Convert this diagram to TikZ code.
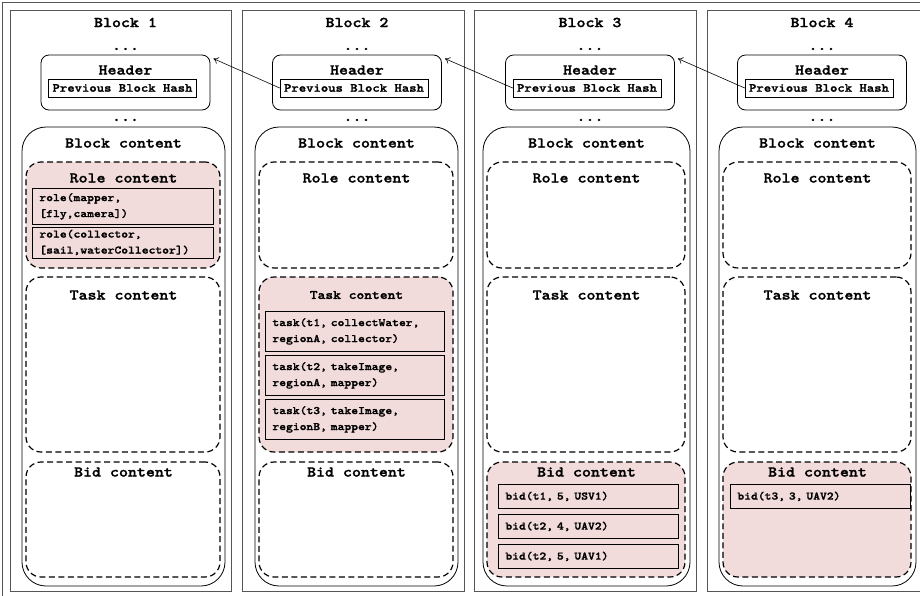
\documentclass[tikz,border=0pt]{standalone}
\usepackage{fontspec}
\setmonofont{Latin Modern Mono Light}[FakeStretch=1.14, BoldFeatures={FakeBold=1.5}]
\usetikzlibrary{fit,arrows.meta}
\definecolor{partpink}{RGB}{242,220,219}
\definecolor{framegray}{RGB}{85,85,85}

\tikzset{
  outerframe/.style={draw=framegray, line width=0.9pt, inner sep=0pt},
  blockframe/.style={draw=framegray, line width=0.9pt, inner sep=0pt},
  contentbox/.style={draw=black, line width=0.8pt, rounded corners=24pt, inner sep=0pt},
  hdrbox/.style={draw=black, line width=0.8pt, rounded corners=8pt, inner sep=0pt},
  hashbox/.style={draw=black, line width=0.8pt, inner xsep=4pt, inner ysep=0pt,
    minimum height=18pt, font=\ttfamily\bfseries\fontsize{12.3}{14}\selectfont},
  partbox/.style={draw=black, line width=1.2pt, dash pattern=on 6pt off 3.5pt,
    rounded corners=15pt, inner sep=0pt},
  itembox/.style={draw=black, line width=0.8pt, anchor=north west, inner xsep=7pt,
    inner ysep=0pt, align=left, font=\ttfamily\bfseries\fontsize{11.4}{16}\selectfont},
  bigtext/.style={font=\ttfamily\bfseries\fontsize{15}{18}\selectfont, inner sep=0pt},
  chainarrow/.style={-{To[length=5pt,width=7pt]}, line width=0.6pt},
}

\begin{document}
\begin{tikzpicture}[x=1pt,y=-1pt]
\useasboundingbox (0,0) rectangle (920,595);
\clip (0,0) rectangle (920,595);

% frame around the whole chain
\node[outerframe, fit={(2,2) (930,605)}] (frame) {};

% the four blocks: frame, title, header, content and its three parts
\foreach \i/\xl/\xr/\hc/\cl/\cr/\fr/\ft/\fb/\tfs in {
  1/10/231/125.5/22/225/partpink/white/white/15,
  2/242/464/357/255/458/white/partpink/white/13,
  3/474/696/590/483/690/white/white/partpink/15,
  4/707/935/822/719/916/white/white/partpink/15}
{
  \node[blockframe, fit={(\xl,10) (\xr,591)}] (blk\i) {};
  \node[bigtext] (title\i) at (\hc,22.5) {Block \i};
  \node[bigtext, anchor=base] (dotsa\i) at (\hc,50) {...};
  \node[hdrbox, fit={(\hc-84.5,55) (\hc+84.5,110)}] (hdr\i) {};
  \node[bigtext] (hdrtxt\i) at (\hc,70) {Header};
  \node[hashbox] (hash\i) at (\hc-3,88) {Previous Block Hash};
  \node[bigtext, anchor=base] (dotsb\i) at (\hc,121) {...};
  \node[contentbox, fit={(\cl,127) (\cr,586)}] (cont\i) {};
  \node[bigtext] (conttxt\i) at ({(\cl+\cr)/2},143) {Block content};
  \node[partbox, fill=\fr, fit={(\cl+4,162) (\cr-5,268)}] (role\i) {};
  \node[bigtext] (roletxt\i) at ({(\cl+\cr)/2},178) {Role content};
  \node[partbox, fill=\ft, fit={(\cl+4,277) (\cr-5,452)}] (task\i) {};
  \node[bigtext, font=\ttfamily\bfseries\fontsize{\tfs}{\tfs}\selectfont] (tasktxt\i)
    at ({(\cl+\cr)/2},295) {Task content};
  \node[partbox, fill=\fb, fit={(\cl+4,462) (\cr-5,577)}] (bid\i) {};
  \node[bigtext] (bidtxt\i) at ({(\cl+\cr)/2},472) {Bid content};
}

% hash links back to the previous block
\draw[chainarrow] (hash2.west) -- ([shift={(3,4)}]hdr1.north east);
\draw[chainarrow] (hash3.west) -- ([shift={(3,4)}]hdr2.north east);
\draw[chainarrow] (hash4.west) -- ([shift={(3,4)}]hdr3.north east);

% block 1: roles
\node[itembox, text width=167pt, minimum height=36pt] (roleA) at (32,188)
  {role(mapper,\\{}[fly,camera])};
\node[itembox, text width=167pt, minimum height=31pt] (roleB) at (32,226.5)
  {role(collector,\\{}[sail,waterCollector])};

% block 2: tasks
\node[itembox, text width=165pt, minimum height=40pt] (taskA) at (265,311)
  {task(t1, collectWater,\\regionA, collector)};
\node[itembox, text width=165pt, minimum height=40pt] (taskB) at (265,355)
  {task(t2, takeImage,\\regionA, mapper)};
\node[itembox, text width=165pt, minimum height=40pt] (taskC) at (265,399)
  {task(t3, takeImage,\\regionB, mapper)};

% block 3: bids
\node[itembox, text width=166pt, minimum height=24pt] (bidA) at (498,484) {bid(t1, 5, USV1)};
\node[itembox, text width=166pt, minimum height=24pt] (bidB) at (498,514) {bid(t2, 4, UAV2)};
\node[itembox, text width=166pt, minimum height=24pt] (bidC) at (498,544) {bid(t2, 5, UAV1)};

% block 4: bid
\node[itembox, text width=166pt, minimum height=24pt] (bidD) at (730,484) {bid(t3, 3, UAV2)};
\end{tikzpicture}
\end{document}
